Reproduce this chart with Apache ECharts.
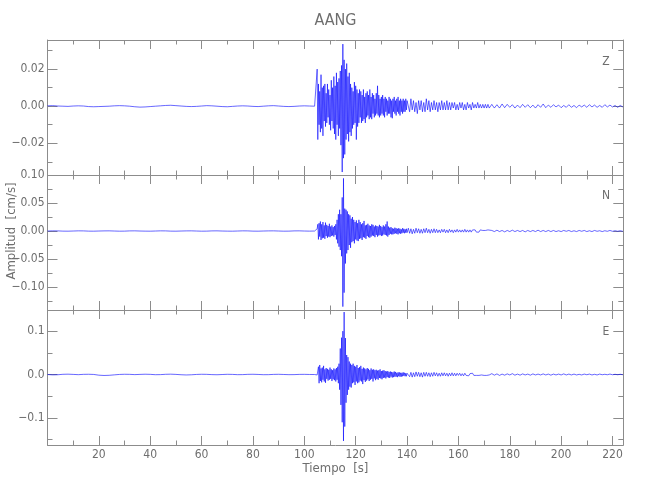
<!DOCTYPE html>
<html>
<head>
<meta charset="utf-8">
<script src="https://cdn.jsdelivr.net/npm/echarts@6/dist/echarts.min.js"></script>
<style>html,body{margin:0;padding:0;background:#fff;}#chart{width:650px;height:500px;}</style>
</head>
<body>
<div id="chart"></div>
<script>
// ---- Data ----
const stationName = 'AANG';
const componentNames = ['Z', 'N', 'E'];
const xAxisTitle = 'Tiempo  [s]';
const yAxisTitle = 'Amplitud  [cm/s]';

// Sampling segments: start time [s] and sample spacing [s]
const segmentStart = [0, 104.5, 140.5, 173];
const segmentStep = [2, 0.25, 0.5, 1];

// Z component [cm/s]
const zPre = [0.0002,0.0003,0.0001,0,-0.0001,0.0001,0.0002,0.0001,-0.0002,-0.0003,
  -0.0002,-0.0001,0,0.0002,0.0003,0.0002,0,-0.0003,-0.0005,-0.0004,
  -0.0002,0,0.0002,0.0004,0.0005,0.0003,0.0001,-0.0001,-0.0002,-0.0001,
  0.0001,0.0003,0.0002,0,-0.0002,-0.0003,-0.0001,0.0001,0.0002,0.0001,
  -0.0001,-0.0002,0,0.0002,0.0003,0.0001,-0.0001,-0.0002,-0.0001,0.0001,
  0.0002,0.0001,0];
const zEvent = [0,0.0005,0.020,-0.018, 0.012,-0.010,0.008,-0.014, 0.017,-0.012,0.010,-0.016,
  0.011,-0.008,0.012,-0.011, 0.007,-0.009,0.012,-0.006, 0.009,-0.010,0.006,-0.013,
  0.014,-0.008,0.010,-0.012, 0.016,-0.015,0.011,-0.018, 0.018,-0.010,0.013,-0.016,
  0.015,-0.012,0.019,-0.021, 0.022,-0.0355,0.0335,-0.028, 0.025,-0.026,0.020,-0.018,
  0.023,-0.015,0.016,-0.019, 0.018,-0.014,0.012,-0.016, 0.010,-0.012,0.008,-0.010,
  0.013,-0.009,0.011,-0.018, 0.009,-0.011,0.007,-0.009, 0.009,-0.006,0.008,-0.009,
  0.006,-0.008,0.009,-0.007, 0.005,-0.009,0.007,-0.006, 0.008,-0.005,0.006,-0.007,
  0.009,-0.006,0.005,-0.007, 0.007,-0.004,0.006,-0.006, 0.004,-0.005,0.007,-0.004,
  0.011,-0.005,0.006,-0.006, 0.004,-0.005,0.005,-0.004, 0.006,-0.005,0.004,-0.006,
  0.005,-0.003,0.004,-0.005, 0.003,-0.004,0.005,-0.004, 0.004,-0.006,0.003,-0.0065,
  0.004,-0.003,0.005,-0.004, 0.003,-0.005,0.004,-0.003, 0.005,-0.004,0.003,-0.005,
  0.004,-0.003,0.003,-0.004, 0.004,-0.003,0.003,-0.003, 0.004,-0.002,0.003];
const zCoda = [0.003,-0.003,0.004,-0.002,0.003,-0.003,0.002,-0.004,0.003,-0.002,
  0.003,-0.003,0.002,-0.003,0.004,-0.002,0.003,-0.003,0.002,-0.002,
  0.003,-0.002,0.002,-0.003,0.002,-0.002,0.003,-0.002,0.002,-0.002,
  0.003,-0.002,0.002,-0.002,0.002,-0.001,0.002,-0.002,0.001,-0.002,
  0.002,-0.001,0.002,-0.002,0.001,-0.002,0.002,-0.001,0.001,-0.002,
  0.002,-0.001,0.001,-0.001,0.002,-0.001,0.001,-0.001,0.001,-0.001,
  0.001,-0.001,0.001,-0.001];
const zTail = [0.001,-0.001,0.0008,-0.001,0.0012,-0.0008,0.001,-0.0006,0.0008,-0.001,
  0.0006,-0.0008,0.001,-0.0006,0.0008,-0.0008,0.0006,-0.001,0.0008,-0.0006,
  0.0012,-0.0008,0.0006,-0.0006,0.0008,-0.0004,0.0006,-0.0008,0.0004,-0.0006,
  0.0008,-0.0006,0.0004,-0.0008,0.0006,-0.0004,0.0006,-0.0006,0.0008,-0.0004,
  0.0006,-0.0006,0.0004,-0.0006,0.0008,-0.0004,0.0006,-0.0004,0.0004,-0.0006,
  0.0004,-0.0004];

// N component [cm/s]
const nPre = [0,0.0003,0.0002,-0.0002,-0.0003,0,0.0003,0.0002,-0.0002,-0.0003,
  0,0.0002,0.0003,0,-0.0003,-0.0002,0.0002,0.0003,0,-0.0002,
  -0.0003,0,0.0003,0.0002,-0.0002,-0.0003,0,0.0002,0.0003,0,
  -0.0003,-0.0002,0.0002,0.0003,0,-0.0002,-0.0003,0,0.0003,0.0002,
  -0.0002,-0.0003,0,0.0002,0.0003,0,-0.0003,-0.0002,0.0002,0.0003,
  0,-0.0002,0];
const nEvent = [0,0.001,0.004,0.012, -0.015,0.014,-0.010,0.017, -0.016,0.012,-0.013,0.016,
  -0.012,0.010,-0.014,0.015, -0.009,0.011,-0.012,0.009, -0.010,0.013,-0.011,0.008,
  -0.009,0.010,-0.008,0.007, -0.010,0.009,-0.007,0.012, -0.015,0.020,-0.022,0.030,
  -0.028,0.038,-0.034,0.030, -0.045,0.060,-0.135,0.094, -0.110,0.040,-0.058,0.038,
  -0.040,0.035,-0.034,0.030, -0.025,0.028,-0.030,0.022, -0.020,0.025,-0.018,0.020,
  -0.022,0.016,-0.015,0.019, -0.017,0.014,-0.018,0.020, -0.014,0.016,-0.013,0.012,
  -0.016,0.014,-0.011,0.018, -0.012,0.010,-0.014,0.011, -0.009,0.013,-0.011,0.010,
  -0.012,0.009,-0.010,0.012, -0.008,0.011,-0.009,0.008, -0.011,0.010,-0.007,0.009,
  -0.010,0.008,-0.008,0.011, -0.007,0.009,-0.009,0.007, -0.008,0.010,-0.006,0.008,
  -0.007,0.012,-0.008,0.017, -0.010,0.008,-0.007,0.006, -0.005,0.007,-0.006,0.005,
  -0.006,0.004,-0.005,0.006, -0.004,0.005,-0.005,0.004, -0.006,0.005,-0.004,0.004,
  -0.005,0.003,-0.004,0.005, -0.003,0.004,-0.004,0.003, -0.003,0.004,-0.003];
const nCoda = [0.005,-0.004,0.004,-0.005,0.003,-0.004,0.005,-0.003,0.004,-0.004,
  0.003,-0.004,0.004,-0.003,0.005,-0.003,0.003,-0.004,0.003,-0.003,
  0.004,-0.003,0.003,-0.003,0.002,-0.003,0.003,-0.002,0.003,-0.003,
  0.002,-0.003,0.003,-0.002,0.002,-0.003,0.002,-0.002,0.003,-0.002,
  0.002,-0.002,0.002,-0.002,0.003,-0.002,0.002,-0.002,0.002,-0.002,
  0.002,-0.001,0.002,-0.002,0.001,-0.002,0.002,-0.001,0.001,-0.002,
  0.001,-0.001,0.002,-0.001];
const nTail = [0.001,-0.001,0.0015,-0.001,0.001,-0.0015,0.001,-0.001,0.0015,-0.001,
  0.001,-0.001,0.001,-0.0015,0.001,-0.001,0.001,-0.001,0.0015,-0.001,
  0.001,-0.001,0.001,-0.001,0.001,-0.001,0.0005,-0.001,0.001,-0.0005,
  0.001,-0.001,0.0005,-0.001,0.001,-0.0005,0.001,-0.001,0.0005,-0.001,
  0.001,-0.0005,0.0005,-0.001,0.0005,-0.0005,0.001,-0.0005,0.0005,-0.0005,
  0.0005,-0.0005];

// E component [cm/s]
const ePre = [0,-0.0008,-0.0005,0.0005,0.0008,0.0003,-0.0003,0.0004,0.0006,0.0002,
  -0.0015,-0.0022,-0.0018,-0.0008,0.0002,0.0006,0.0004,-0.0002,0.0003,0.0007,
  0.0004,-0.0004,-0.0002,0.0005,0.0008,0.0003,-0.0005,-0.0010,-0.0006,0.0002,
  0.0006,0.0004,-0.0002,-0.0005,0,0.0005,0.0003,-0.0003,-0.0002,0.0004,
  0.0006,0.0002,-0.0004,-0.0003,0.0003,0.0005,0.0001,-0.0003,-0.0002,0.0003,
  0.0004,0.0001,0];
const eEvent = [0,0.001,-0.001,0.002, 0.018,-0.020,0.022,-0.015, 0.014,-0.018,0.016,-0.012,
  0.020,-0.016,0.012,-0.019, 0.015,-0.010,0.013,-0.014, 0.011,-0.012,0.016,-0.010,
  0.012,-0.015,0.010,-0.011, 0.014,-0.013,0.012,-0.016, 0.015,-0.012,0.018,-0.020,
  0.025,-0.035,0.060,-0.070, 0.085,-0.110,0.100,-0.153, 0.144,-0.120,0.084,-0.065,
  0.045,-0.047,0.040,-0.035, 0.030,-0.028,0.025,-0.030, 0.022,-0.020,0.025,-0.018,
  0.020,-0.024,0.018,-0.016, 0.022,-0.020,0.015,-0.018, 0.017,-0.014,0.020,-0.016,
  0.013,-0.022,0.016,-0.013, 0.014,-0.017,0.012,-0.014, 0.015,-0.011,0.013,-0.015,
  0.010,-0.012,0.014,-0.010, 0.011,-0.016,0.012,-0.009, 0.010,-0.013,0.011,-0.010,
  0.009,-0.012,0.010,-0.008, 0.012,-0.009,0.008,-0.011, 0.009,-0.008,0.010,-0.007,
  0.008,-0.009,0.007,-0.006, 0.008,-0.007,0.006,-0.008, 0.007,-0.005,0.006,-0.007,
  0.005,-0.006,0.007,-0.005, 0.006,-0.005,0.004,-0.006, 0.005,-0.004,0.005,-0.005,
  0.004,-0.005,0.004,-0.004, 0.005,-0.003,0.004,-0.004, 0.003,-0.004,0.003];
const eCoda = [0.006,-0.005,0.005,-0.006,0.004,-0.005,0.006,-0.004,0.005,-0.005,
  0.004,-0.006,0.005,-0.004,0.005,-0.004,0.004,-0.005,0.004,-0.004,
  0.005,-0.003,0.004,-0.004,0.003,-0.004,0.004,-0.003,0.004,-0.003,
  0.003,-0.004,0.003,-0.003,0.004,-0.003,0.003,-0.003,0.003,-0.002,
  0.003,-0.003,0.002,-0.003,0.003,-0.002,0.002,-0.003,0.002,-0.002,
  0.003,-0.002,0.002,-0.002,0.002,-0.002,0.002,-0.001,0.002,-0.002,
  0.001,-0.002,0.002,-0.001];
const eTail = [0.002,-0.0015,0.0015,-0.002,0.001,-0.0015,0.0015,-0.001,0.002,-0.0015,
  0.001,-0.0015,0.0015,-0.001,0.001,-0.0015,0.0015,-0.001,0.001,-0.001,
  0.0015,-0.001,0.001,-0.0015,0.001,-0.001,0.001,-0.001,0.0015,-0.001,
  0.001,-0.001,0.001,-0.001,0.0005,-0.001,0.001,-0.0005,0.001,-0.001,
  0.0005,-0.001,0.001,-0.0005,0.0005,-0.0005,0.001,-0.0005,0.0005,-0.0005,
  0.0005,-0.0005];

// Axis ranges and ticks
const xRange = [0, 224.2];
const xMajorTicks = [0,20,40,60,80,100,120,140,160,180,200,220];
const xMinorTicks = [10,30,50,70,90,110,130,150,170,190,210];
const xTickLabels = ['20','40','60','80','100','120','140','160','180','200','220'];
const xLabelValues = [20,40,60,80,100,120,140,160,180,200,220];

const zRange = [-0.0371, 0.0357];
const zMajorTicks = [0.02, 0, -0.02];
const zMinorTicks = [0.03, 0.01, -0.01, -0.03];
const zTickLabels = ['0.02', '0.00', '\u22120.02'];

const nRange = [-0.141, 0.100];
const nMajorTicks = [0.10, 0.05, 0, -0.05, -0.10];
const nMinorTicks = [0.075, 0.025, -0.025, -0.075, -0.125];
const nTickLabels = ['0.10', '0.05', '0.00', '\u22120.05', '\u22120.10'];

const eRange = [-0.1624, 0.1487];
const eMajorTicks = [0.1, 0, -0.1];
const eMinorTicks = [0.05, -0.05, -0.15];
const eTickLabels = ['0.1', '0.0', '\u22120.1'];

// ---- Chart ----
const FONT = "'Liberation Sans Narrow','DejaVu Sans Condensed','Arial Narrow',sans-serif";
const AX = '#8c8c8c';
const TXT = '#6e6e6e';
const LINE = '#0000ff';

function buildPairs(segs) {
  const out = [];
  segs.forEach((vals, s) => {
    vals.forEach((v, i) => {
      out.push([+(segmentStart[s] + segmentStep[s] * i).toFixed(3), v]);
    });
  });
  return out;
}

const channels = [
  { data: buildPairs([zPre, zEvent, zCoda, zTail]), range: zRange, major: zMajorTicks, minor: zMinorTicks, labels: zTickLabels },
  { data: buildPairs([nPre, nEvent, nCoda, nTail]), range: nRange, major: nMajorTicks, minor: nMinorTicks, labels: nTickLabels },
  { data: buildPairs([ePre, eEvent, eCoda, eTail]), range: eRange, major: eMajorTicks, minor: eMinorTicks, labels: eTickLabels }
];

const gridTops = [40, 175, 310];
const gridH = 135;
const grids = gridTops.map(t => ({ left: 47.5, right: 26.7, top: t, height: gridH, containLabel: false }));

const xAxes = [];
const yAxes = [];
const series = [];

channels.forEach((ch, g) => {
  const showX = g === 2;
  const base = { gridIndex: g, type: 'value', min: xRange[0], max: xRange[1], splitLine: { show: false }, axisPointer: { show: false } };
  const majorX = xAxes.length;
  xAxes.push(Object.assign({}, base, {
    position: 'bottom',
    axisLine: { show: true, onZero: false, lineStyle: { color: AX, width: 1 } },
    axisTick: { show: true, inside: true, length: 9, customValues: xMajorTicks, lineStyle: { color: AX } },
    axisLabel: { show: showX, customValues: xLabelValues, margin: 4, color: TXT, fontSize: 12, fontFamily: FONT,
      formatter: v => { const k = xLabelValues.indexOf(Math.round(v)); return k >= 0 ? xTickLabels[k] : ''; } }
  }));
  xAxes.push(Object.assign({}, base, {
    position: 'top',
    axisLine: { show: true, onZero: false, lineStyle: { color: AX, width: 1 } },
    axisTick: { show: true, inside: true, length: 9, customValues: xMajorTicks, lineStyle: { color: AX } },
    axisLabel: { show: false }
  }));
  ['bottom', 'top'].forEach(p => {
    xAxes.push(Object.assign({}, base, {
      position: p,
      axisLine: { show: false, onZero: false },
      axisTick: { show: true, inside: true, length: 4.5, customValues: xMinorTicks, lineStyle: { color: AX } },
      axisLabel: { show: false }
    }));
  });

  const ybase = { gridIndex: g, type: 'value', min: ch.range[0], max: ch.range[1], splitLine: { show: false }, axisPointer: { show: false } };
  const majorY = yAxes.length;
  yAxes.push(Object.assign({}, ybase, {
    position: 'left',
    axisLine: { show: true, onZero: false, lineStyle: { color: AX, width: 1 } },
    axisTick: { show: true, inside: true, length: 10, customValues: ch.major, lineStyle: { color: AX } },
    axisLabel: { show: true, customValues: ch.major, margin: 3, color: TXT, fontSize: 12, fontFamily: FONT,
      formatter: v => { let k = -1; ch.major.forEach((m, i) => { if (Math.abs(m - v) < 1e-9) k = i; }); return k >= 0 ? ch.labels[k] : ''; } }
  }));
  yAxes.push(Object.assign({}, ybase, {
    position: 'right',
    axisLine: { show: true, onZero: false, lineStyle: { color: AX, width: 1 } },
    axisTick: { show: true, inside: true, length: 10, customValues: ch.major, lineStyle: { color: AX } },
    axisLabel: { show: false }
  }));
  ['left', 'right'].forEach(p => {
    yAxes.push(Object.assign({}, ybase, {
      position: p,
      axisLine: { show: false, onZero: false },
      axisTick: { show: true, inside: true, length: 5, customValues: ch.minor, lineStyle: { color: AX } },
      axisLabel: { show: false }
    }));
  });

  series.push({
    type: 'line',
    name: componentNames[g],
    xAxisIndex: majorX,
    yAxisIndex: majorY,
    data: ch.data,
    showSymbol: false,
    symbol: 'none',
    clip: true,
    lineStyle: { color: LINE, width: 0.6 },
    emphasis: { disabled: true },
    animation: false
  });
});

const chart = echarts.init(document.getElementById('chart'), null, { renderer: 'canvas' });
chart.setOption({
  backgroundColor: '#ffffff',
  animation: false,
  grid: grids,
  xAxis: xAxes,
  yAxis: yAxes,
  series: series,
  graphic: [
    { type: 'text', x: 335.5, y: 21, style: { text: stationName, font: '16px ' + FONT, fill: TXT, textAlign: 'center', textVerticalAlign: 'middle' } },
    { type: 'text', x: 335.5, y: 469, style: { text: xAxisTitle, font: '13px ' + FONT, fill: TXT, textAlign: 'center', textVerticalAlign: 'middle' } },
    { type: 'text', x: 12, y: 231, rotation: Math.PI / 2, style: { text: yAxisTitle, font: '13px ' + FONT, fill: TXT, textAlign: 'center', textVerticalAlign: 'middle' } },
    { type: 'text', x: 606, y: 62, style: { text: componentNames[0], font: '12px ' + FONT, fill: TXT, textAlign: 'center', textVerticalAlign: 'middle' } },
    { type: 'text', x: 606, y: 196, style: { text: componentNames[1], font: '12px ' + FONT, fill: TXT, textAlign: 'center', textVerticalAlign: 'middle' } },
    { type: 'text', x: 606, y: 332, style: { text: componentNames[2], font: '12px ' + FONT, fill: TXT, textAlign: 'center', textVerticalAlign: 'middle' } }
  ]
});
</script>
</body>
</html>
